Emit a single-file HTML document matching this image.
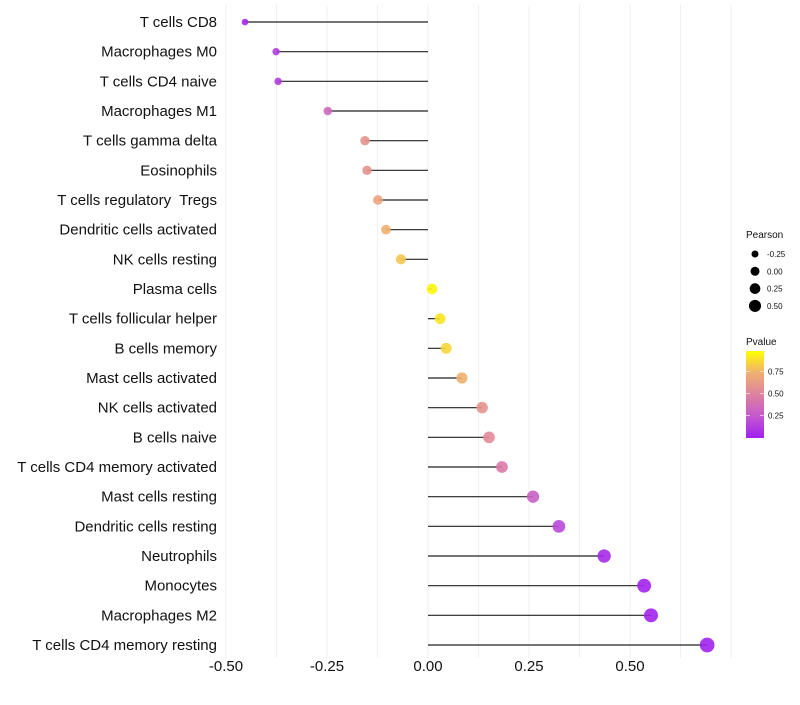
<!DOCTYPE html>
<html><head><meta charset="utf-8"><style>
body{margin:0;background:#fff;font-family:"Liberation Sans",sans-serif;}
svg text{font-family:"Liberation Sans",sans-serif;white-space:pre;}
</style></head><body>
<svg id="chart" width="800" height="700" xmlns="http://www.w3.org/2000/svg">
<g id="grid"></g>
<g id="marks"></g>
<g id="labels"></g>
<g id="xticks"></g>
<g id="legend"></g>
</svg>
<script>
const categories=["T cells CD8","Macrophages M0","T cells CD4 naive","Macrophages M1","T cells gamma delta","Eosinophils","T cells regulatory  Tregs","Dendritic cells activated","NK cells resting","Plasma cells","T cells follicular helper","B cells memory","Mast cells activated","NK cells activated","B cells naive","T cells CD4 memory activated","Mast cells resting","Dendritic cells resting","Neutrophils","Monocytes","Macrophages M2","T cells CD4 memory resting"];
const pearson=[-0.453,-0.376,-0.371,-0.248,-0.156,-0.151,-0.124,-0.104,-0.067,0.010,0.030,0.045,0.084,0.134,0.151,0.183,0.260,0.324,0.436,0.535,0.552,0.691];
const pvalues=[0.03,0.12,0.12,0.35,0.6,0.6,0.68,0.75,0.82,0.97,0.92,0.87,0.75,0.6,0.55,0.45,0.3,0.18,0.05,0.02,0.02,0.01];
const xTicks=[-0.5,-0.25,0,0.25,0.5];
const xTickLabels=["-0.50","-0.25","0.00","0.25","0.50"];
const sizeLegend=[-0.25,0,0.25,0.5];
const sizeLegendLabels=["-0.25","0.00","0.25","0.50"];
const colorLegend=[0.25,0.5,0.75];
const colorLegendLabels=["0.25","0.50","0.75"];

const NS="http://www.w3.org/2000/svg";
const xs=v=>428+v*404;
const ys=i=>22+i*(623/21);
const rs=v=>Math.sqrt(Math.max(4,28+38*v));
const stops=[[0,[160,32,240]],[0.25,[196,88,206]],[0.5,[222,130,160]],[0.75,[240,176,112]],[1,[255,255,0]]];
function col(p){for(let i=1;i<stops.length;i++){if(p<=stops[i][0]){const a=stops[i-1],b=stops[i],t=(p-a[0])/(b[0]-a[0]);return "rgb("+a[1].map((c,k)=>Math.round(c+(b[1][k]-c)*t)).join(",")+")";}}return "rgb(255,255,0)";}
function mk(tag,attrs,parent){const e=document.createElementNS(NS,tag);for(const k in attrs)e.setAttribute(k,attrs[k]);parent.appendChild(e);return e;}
const grid=document.getElementById('grid'),marks=document.getElementById('marks'),labels=document.getElementById('labels'),xt=document.getElementById('xticks'),lg=document.getElementById('legend');
for(let v=-0.5;v<=0.76;v+=0.125){const g=mk('line',{x1:xs(v),x2:xs(v),y1:5,y2:658,stroke:'#efefef','stroke-width':1},grid);

}
categories.forEach((c,i)=>{
 const l=mk('line',{x1:xs(0),x2:xs(pearson[i]),y1:ys(i),y2:ys(i),stroke:'#222','stroke-width':1.2},marks);
 
 
 const p=mk('circle',{cx:xs(pearson[i]),cy:ys(i),r:rs(pearson[i]),fill:col(pvalues[i]),'fill-opacity':0.9},marks);
 
 
 const t=mk('text',{x:217,y:ys(i)+5,'text-anchor':'end','font-size':15,fill:'#111'},labels);
 t.textContent=c;
 
 
});
xTicks.forEach((v,i)=>{const t=mk('text',{x:xs(v),y:671,'text-anchor':'middle','font-size':15,fill:'#111'},xt);
t.textContent=xTickLabels[i];

});
let t=mk('text',{x:746,y:238,'font-size':10,fill:'#111'},lg);t.textContent="Pearson";


sizeLegend.forEach((v,i)=>{const y=254+i*17.3;
 const c=mk('circle',{cx:755,cy:y,r:rs(v)-0.8,fill:'#000'},lg);
 
 
 const tx=mk('text',{x:767,y:y+3,'font-size':8,fill:'#111'},lg);tx.textContent=sizeLegendLabels[i];
 
 });
t=mk('text',{x:746,y:345,'font-size':10,fill:'#111'},lg);t.textContent="Pvalue";


const defs=mk('defs',{},lg);const gr=mk('linearGradient',{id:'pg',x1:0,y1:1,x2:0,y2:0},defs);
stops.forEach(s=>mk('stop',{offset:s[0],'stop-color':col(s[0])},gr));
const bar=mk('rect',{x:746,y:351,width:18,height:87,fill:'url(#pg)'},lg);


const py=p=>437-(p-0.01)*(86/0.97);
colorLegend.forEach((v,i)=>{
 mk('line',{x1:746,x2:750,y1:py(v),y2:py(v),stroke:'#fff','stroke-width':0.6},lg);
 mk('line',{x1:760,x2:764,y1:py(v),y2:py(v),stroke:'#fff','stroke-width':0.6},lg);
 const tx=mk('text',{x:768,y:py(v)+3,'font-size':8,fill:'#111'},lg);tx.textContent=colorLegendLabels[i];
 
 });
</script>
</body></html>
